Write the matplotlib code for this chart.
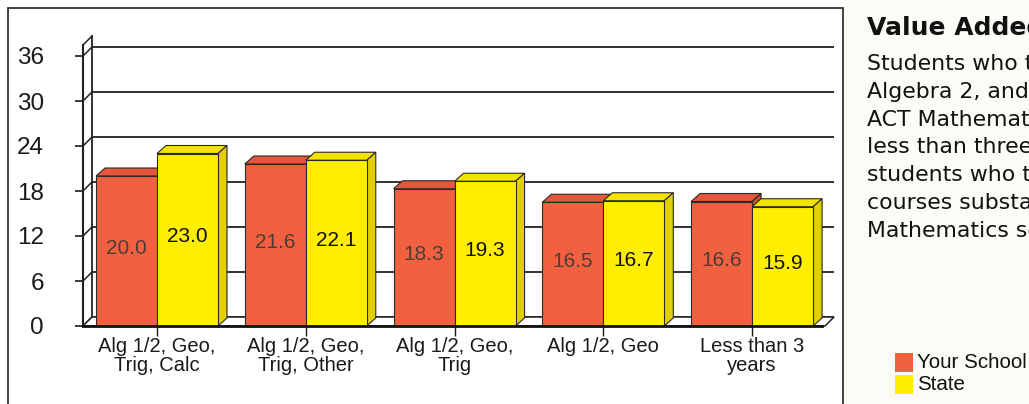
import numpy as np
import matplotlib.pyplot as plt
from matplotlib.patches import Polygon, Rectangle

plt.rcParams['font.family'] = ['Liberation Sans', 'DejaVu Sans']

# data
categories = ["Alg 1/2, Geo,\nTrig, Calc", "Alg 1/2, Geo,\nTrig, Other",
              "Alg 1/2, Geo,\nTrig", "Alg 1/2, Geo", "Less than 3\nyears"]
school = [20.0, 21.6, 18.3, 16.5, 16.6]
state = [23.0, 22.1, 19.3, 16.7, 15.9]
yticks = [0, 6, 12, 18, 24, 30, 36]
series_names = ["Your School", "State"]

title = "Value Added"
body_lines = ["Students who took", "Algebra 2, and", "ACT Mathematics",
              "less than three", "students who took", "courses substantially",
              "Mathematics scores"]

# colours (front, top, side)
orange = ('#F3603F', '#E5563A', '#D44C31')
yellow = ('#FFEE00', '#F4E300', '#E3CF00')
edge = '#2a2a2a'

W, H = 1029, 404
fig = plt.figure(figsize=(W / 100, H / 100), dpi=100)

def fx(px):
    return px / W

def fy(py):
    return 1 - py / H

# panel background + outer border
fig.add_artist(Rectangle((fx(843), 0), (W - 843) / W, 1, transform=fig.transFigure,
                         fc='#FCFBF6', ec='none', zorder=0))
fig.add_artist(Rectangle((fx(8), fy(410)), (843 - 8) / W, (410 - 8) / H,
                         transform=fig.transFigure, fill=False, ec='#333333', lw=1.3))

# axes placed on the front plane of the 3d box
L, R, B, T = 83, 822, 326, 56
ax = fig.add_axes([fx(L), fy(B), (R - L) / W, (B - T) / H])
ax.patch.set_alpha(0)
xmin, xmax = -0.4975, 4.47
ax.set_xlim(xmin, xmax)
ax.set_ylim(0, 36)
ux = (xmax - xmin) / (R - L)   # data per pixel
uy = 36 / (B - T)

wdx, wdy = 9 * ux, 9 * uy      # wall depth
bdx, bdy = 9 * ux, 8 * uy      # bar depth
wall_right = xmin + (834 - L) * ux
top_front = (B - 45) * uy

# back wall gridlines and side wall diagonals
for v in yticks:
    ax.plot([xmin + wdx, wall_right], [v + wdy, v + wdy], color='#222222', lw=1.3,
            zorder=1, clip_on=False, solid_capstyle='butt')
    ax.plot([xmin, xmin + wdx], [v, v + wdy], color='#222222', lw=1.1,
            zorder=1, clip_on=False)
ax.plot([xmin + wdx, xmin + wdx], [wdy, top_front + wdy], color='#222222', lw=1.3,
        zorder=1, clip_on=False)
ax.plot([xmin, xmin], [0, top_front], color='#222222', lw=1.5, zorder=6, clip_on=False)
ax.plot([xmin, xmin + wdx], [top_front, top_front + wdy], color='#222222', lw=1.1,
        zorder=1, clip_on=False)

# floor
ax.add_patch(Polygon([(xmin, 0), (wall_right - wdx, 0), (wall_right, wdy), (xmin + wdx, wdy)],
                     closed=True, fc='white', ec='#222222', lw=1.1, zorder=1.5, clip_on=False))

# bars
w = 0.41
x = np.arange(len(categories))

def box(x0, v, cols, z):
    ax.add_patch(Polygon([(x0, v), (x0 + w, v), (x0 + w + bdx, v + bdy), (x0 + bdx, v + bdy)],
                         closed=True, fc=cols[1], ec=edge, lw=0.8, zorder=z, clip_on=False))
    ax.add_patch(Polygon([(x0 + w, 0), (x0 + w + bdx, bdy), (x0 + w + bdx, v + bdy), (x0 + w, v)],
                         closed=True, fc=cols[2], ec=edge, lw=0.8, zorder=z, clip_on=False))

for i in range(len(categories)):
    box(x[i] - w, school[i], orange, 3)
    box(x[i], state[i], yellow, 4)

ax.bar(x - w / 2, school, w, color=orange[0], edgecolor=edge, lw=0.8, zorder=3.5)
ax.bar(x + w / 2, state, w, color=yellow[0], edgecolor=edge, lw=0.8, zorder=4.5)

for i in range(len(categories)):
    ax.text(x[i] - w / 2, school[i] / 2 + 0.4, f"{school[i]:.1f}", ha='center', va='center',
            fontsize=15, color='#4b3d38', zorder=7)
    ax.text(x[i] + w / 2, state[i] / 2 + 0.4, f"{state[i]:.1f}", ha='center', va='center',
            fontsize=15, color='#111111', zorder=7)

# axes styling
for s in ['top', 'right', 'left']:
    ax.spines[s].set_visible(False)
ax.spines['bottom'].set_linewidth(2)
ax.spines['bottom'].set_color('#111111')
ax.spines['bottom'].set_zorder(6)
ax.set_yticks(yticks)
ax.set_yticklabels([str(t) for t in yticks])
ax.tick_params(axis='y', length=6, width=1.2, pad=22, labelsize=17.5, colors='#1a1a1a')
ax.set_xticks(x)
ax.set_xticklabels(categories)
ax.tick_params(axis='x', length=7, width=1, pad=1, labelsize=14.5, colors='#1a1a1a')
for lbl in ax.get_xticklabels():
    lbl.set_linespacing(1.0)

# legend
for i, (name, col) in enumerate(zip(series_names, [orange[0], yellow[0]])):
    top = 353 + 22 * i
    fig.add_artist(Rectangle((fx(895), fy(top + 19)), 18 / W, 19 / H,
                             transform=fig.transFigure, fc=col, ec='none'))
    fig.text(fx(917), fy(top + 15), name, fontsize=14.8, color='#111111', va='baseline')

# text panel
fig.text(fx(867), fy(35), title, fontsize=18, weight='bold', family='DejaVu Sans',
         color='#111111', va='baseline')
for i, line in enumerate(body_lines):
    fig.text(fx(867), fy(70 + 27.8 * i), line, fontsize=15.8, family='DejaVu Sans',
             color='#111111', va='baseline')

fig.savefig('out.png', dpi=100)
